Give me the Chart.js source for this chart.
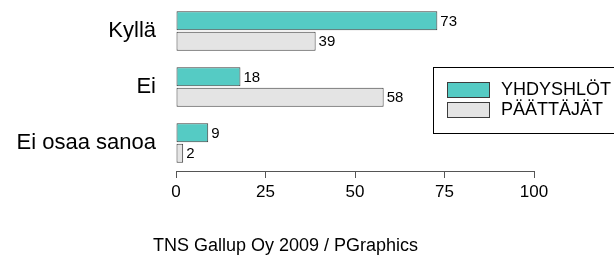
<!DOCTYPE html>
<html>
<head>
<meta charset="utf-8">
<script src="https://cdn.jsdelivr.net/npm/chart.js@4/dist/chart.umd.min.js"></script>
<style>
  html, body { margin: 0; padding: 0; background: #fff; }
  #wrap { width: 614px; height: 257px; }
</style>
</head>
<body>
<div id="wrap"><canvas id="chart" width="614" height="257"></canvas></div>
<script>
const categories = ['Kyllä', 'Ei', 'Ei osaa sanoa'];
const yhdyshlot = [73, 18, 9];
const paattajat = [39, 58, 2];
const seriesLabels = ['YHDYSHLÖT', 'PÄÄTTÄJÄT'];
const xTicks = [0, 25, 50, 75, 100];
const footerText = 'TNS Gallup Oy 2009 / PGraphics';

const FONT = '"Liberation Sans", Arial, sans-serif';
const TEAL = '#55cbc4';
const LIGHT = '#e4e4e4';
const EDGE = '#3c3c3c';

// value labels at the end of every bar
const valueLabels = {
    id: 'valueLabels',
    afterDatasetsDraw(chart) {
        const ctx = chart.ctx;
        ctx.save();
        ctx.font = '15px ' + FONT;
        ctx.fillStyle = '#000';
        ctx.textAlign = 'left';
        ctx.textBaseline = 'middle';
        chart.data.datasets.forEach((ds, i) => {
            chart.getDatasetMeta(i).data.forEach((bar, j) => {
                ctx.fillText(String(ds.data[j]), bar.x + 3, bar.y + 1);
            });
        });
        ctx.restore();
    }
};

// boxed legend on the right, plus footer text
const boxLegend = {
    id: 'boxLegend',
    afterDraw(chart) {
        const ctx = chart.ctx;
        ctx.save();
        ctx.strokeStyle = '#000';
        ctx.lineWidth = 1;
        ctx.strokeRect(433.5, 67.5, 200, 66);

        ctx.font = '18px ' + FONT;
        ctx.textBaseline = 'middle';
        chart.data.datasets.forEach((ds, i) => {
            const y = 82 + i * 20;
            ctx.fillStyle = ds.backgroundColor;
            ctx.fillRect(447, y, 43, 16);
            ctx.strokeStyle = EDGE;
            ctx.strokeRect(447.5, y + 0.5, 42, 15);
            ctx.fillStyle = '#000';
            ctx.fillText(ds.label, 501, y + 8);
        });

        ctx.font = '18px ' + FONT;
        ctx.textBaseline = 'alphabetic';
        ctx.fillStyle = '#000';
        ctx.fillText(footerText, 153, 251);
        ctx.restore();
    }
};

new Chart(document.getElementById('chart'), {
    type: 'bar',
    data: {
        labels: categories,
        datasets: [
            {
                label: seriesLabels[0],
                data: yhdyshlot,
                backgroundColor: TEAL,
                borderColor: EDGE,
                borderWidth: 1,
                borderSkipped: false,
                categoryPercentage: 0.73,
                barPercentage: 0.93
            },
            {
                label: seriesLabels[1],
                data: paattajat,
                backgroundColor: LIGHT,
                borderColor: EDGE,
                borderWidth: 1,
                borderSkipped: false,
                categoryPercentage: 0.73,
                barPercentage: 0.93
            }
        ]
    },
    options: {
        indexAxis: 'y',
        responsive: false,
        animation: false,
        devicePixelRatio: 1,
        layout: { padding: { top: 3, right: 80, left: 0, bottom: 0 } },
        plugins: {
            legend: { display: false },
            tooltip: { enabled: false }
        },
        scales: {
            x: {
                min: 0,
                max: 100,
                afterFit: (scale) => {
                    scale.height = 86;
                    scale.paddingLeft = 0;
                    scale.paddingRight = 0;
                },
                afterBuildTicks: (scale) => { scale.ticks = xTicks.map(v => ({ value: v })); },
                grid: {
                    drawOnChartArea: false,
                    drawTicks: true,
                    tickLength: 7,
                    color: '#555'
                },
                border: { display: true, color: '#555', width: 1 },
                ticks: {
                    padding: 4,
                    color: '#000',
                    font: { family: FONT, size: 17 },
                    maxRotation: 0
                }
            },
            y: {
                afterFit: (scale) => {
                    scale.width = 176;
                    scale.paddingTop = 0;
                    scale.paddingBottom = 0;
                },
                grid: { display: false },
                border: { display: false },
                ticks: {
                    padding: 12,
                    color: '#000',
                    font: { family: FONT, size: 22 }
                }
            }
        }
    },
    plugins: [valueLabels, boxLegend]
});
</script>
</body>
</html>
